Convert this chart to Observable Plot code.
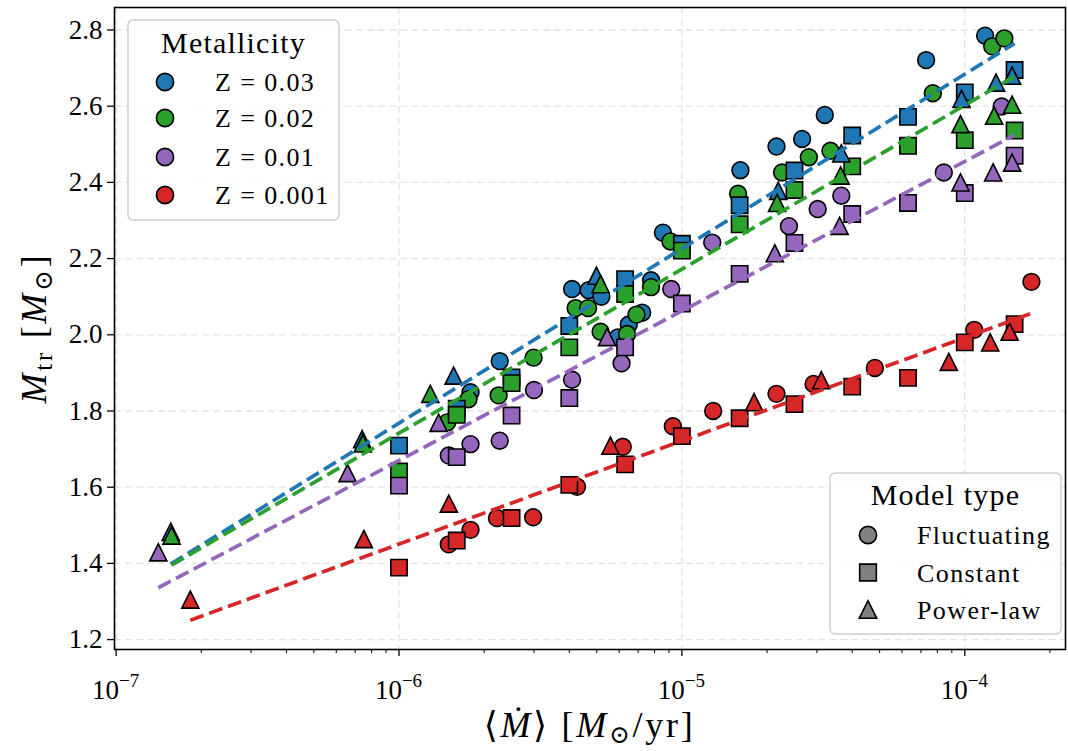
<!DOCTYPE html>
<html>
<head>
<meta charset="utf-8">
<script src="https://cdn.jsdelivr.net/npm/d3@7"></script>
<script src="https://cdn.jsdelivr.net/npm/@observablehq/plot@0.6"></script>
<style>
  html, body { margin: 0; padding: 0; background: #fff; }
  #chart { position: relative; width: 1068px; height: 751px; }
</style>
</head>
<body>
<div id="chart"></div>
<script>
const SERIF = "'Liberation Serif', 'DejaVu Serif', serif";

// Metallicity groups and model types
const zLabels = ["0.03", "0.02", "0.01", "0.001"];
const zColors = ["#1f77b4", "#2ca02c", "#9467bd", "#d62728"];
const modelNames = ["Fluctuating", "Constant", "Power-law"];

// Axis ticks
const yTicks = [1.2, 1.4, 1.6, 1.8, 2.0, 2.2, 2.4, 2.6, 2.8];
const xMajorTicks = [1e-7, 1e-6, 1e-5, 1e-4];
const xMajorExponents = ["\u22127", "\u22126", "\u22125", "\u22124"];
const xMinorTicks = [
  2e-7, 3e-7, 4e-7, 5e-7, 6e-7, 7e-7, 8e-7, 9e-7,
  2e-6, 3e-6, 4e-6, 5e-6, 6e-6, 7e-6, 8e-6, 9e-6,
  2e-5, 3e-5, 4e-5, 5e-5, 6e-5, 7e-5, 8e-5, 9e-5,
  2e-4
];

// Constant accretion-rate models (shared grid of rates, M_sun/yr)
const constRate = [1e-6, 1.6e-6, 2.5e-6, 4e-6, 6.3e-6, 1e-5, 1.6e-5, 2.5e-5, 4e-5, 6.3e-5, 1e-4, 1.5e-4];
const constMtr003 = [1.709, 1.806, 1.888, 2.023, 2.146, 2.239, 2.340, 2.431, 2.523, 2.572, 2.636, 2.695];
const constMtr002 = [1.641, 1.790, 1.873, 1.967, 2.107, 2.221, 2.290, 2.380, 2.442, 2.496, 2.511, 2.536];
const constMtr001 = [1.604, 1.679, 1.788, 1.834, 1.967, 2.082, 2.160, 2.241, 2.317, 2.346, 2.372, 2.470];
const constMtr0001 = [1.389, 1.460, 1.519, 1.606, 1.660, 1.734, 1.781, 1.818, 1.864, 1.887, 1.980, 2.028];

// Fluctuating models: time-averaged rate and transition mass
const flucRate003 = [1.79e-6, 2.27e-6, 4.09e-6, 4.68e-6, 5.19e-6, 5.93e-6, 6.49e-6, 7.24e-6, 7.78e-6, 8.57e-6, 1.61e-5, 2.16e-5, 2.66e-5, 3.20e-5, 7.30e-5, 1.18e-4];
const flucMtr003 = [1.849, 1.931, 2.120, 2.117, 2.100, 1.993, 2.027, 2.058, 2.143, 2.268, 2.432, 2.494, 2.514, 2.577, 2.721, 2.785];
const flucRate002 = [1.48e-6, 1.76e-6, 2.25e-6, 2.99e-6, 4.21e-6, 4.66e-6, 5.16e-6, 6.40e-6, 6.91e-6, 7.78e-6, 9.11e-6, 1.58e-5, 2.26e-5, 2.81e-5, 3.35e-5, 7.71e-5, 1.25e-4, 1.38e-4];
const flucMtr002 = [1.770, 1.831, 1.841, 1.940, 2.070, 2.070, 2.008, 2.002, 2.053, 2.125, 2.245, 2.370, 2.426, 2.466, 2.483, 2.634, 2.757, 2.778];
const flucRate001 = [1.50e-6, 1.79e-6, 2.27e-6, 3.00e-6, 4.09e-6, 6.12e-6, 9.17e-6, 1.28e-5, 2.39e-5, 3.02e-5, 3.66e-5, 8.43e-5, 1.35e-4];
const flucMtr001 = [1.683, 1.713, 1.722, 1.855, 1.882, 1.925, 2.120, 2.242, 2.285, 2.330, 2.365, 2.426, 2.599];
const flucRate0001 = [1.50e-6, 1.79e-6, 2.22e-6, 2.98e-6, 4.26e-6, 6.18e-6, 9.29e-6, 1.29e-5, 2.16e-5, 2.92e-5, 4.81e-5, 1.08e-4, 1.72e-4];
const flucMtr0001 = [1.450, 1.488, 1.519, 1.521, 1.601, 1.706, 1.760, 1.800, 1.845, 1.871, 1.913, 2.013, 2.139];

// Power-law models
const powRate003 = [1.56e-7, 7.41e-7, 1.56e-6, 4.99e-6, 2.19e-5, 3.66e-5, 9.74e-5, 1.29e-4, 1.47e-4];
const powMtr003 = [1.483, 1.726, 1.893, 2.155, 2.378, 2.476, 2.619, 2.662, 2.680];
const powRate002 = [1.57e-7, 7.45e-7, 1.29e-6, 5.16e-6, 2.17e-5, 3.64e-5, 9.66e-5, 1.27e-4, 1.47e-4];
const powMtr002 = [1.473, 1.715, 1.845, 2.133, 2.346, 2.418, 2.553, 2.575, 2.604];
const powRate001 = [1.41e-7, 6.58e-7, 1.38e-6, 5.44e-6, 2.13e-5, 3.61e-5, 9.66e-5, 1.26e-4, 1.47e-4];
const powMtr001 = [1.429, 1.637, 1.769, 1.994, 2.214, 2.286, 2.400, 2.426, 2.452];
const powRate0001 = [1.83e-7, 7.51e-7, 1.50e-6, 5.59e-6, 1.80e-5, 3.11e-5, 8.78e-5, 1.23e-4, 1.44e-4];
const powMtr0001 = [1.305, 1.464, 1.557, 1.709, 1.823, 1.881, 1.929, 1.980, 2.008];

// Log-linear fits per metallicity: M_tr = intercept + slope * log10(rate)
const fitSlope = [0.458, 0.4304, 0.3925, 0.2709];
const fitIntercept = [4.516, 4.324, 4.025, 3.076];

// ---- assemble table (circles first, then squares, then triangles) ----
const flucRate = [flucRate003, flucRate002, flucRate001, flucRate0001];
const flucMtr = [flucMtr003, flucMtr002, flucMtr001, flucMtr0001];
const constMtr = [constMtr003, constMtr002, constMtr001, constMtr0001];
const powRate = [powRate003, powRate002, powRate001, powRate0001];
const powMtr = [powMtr003, powMtr002, powMtr001, powMtr0001];

const rows = [];
modelNames.forEach((model, m) => {
  zLabels.forEach((z, k) => {
    const xs = m === 0 ? flucRate[k] : m === 1 ? constRate : powRate[k];
    const ys = m === 0 ? flucMtr[k] : m === 1 ? constMtr[k] : powMtr[k];
    xs.forEach((rate, i) => rows.push({model, z, rate, mtr: ys[i]}));
  });
});

const fitRows = [];
zLabels.forEach((z, k) => {
  const ext = d3.extent(rows.filter(r => r.z === z), r => r.rate);
  ext.forEach(rate => fitRows.push({z, rate, mtr: fitIntercept[k] + fitSlope[k] * Math.log10(rate)}));
});

// Marker shapes sized from the same radius, centred on their bounding box
const symCircle = {draw(ctx, size) { const r = Math.sqrt(size / Math.PI); ctx.moveTo(r, 0); ctx.arc(0, 0, r, 0, 2 * Math.PI); }};
const symSquare = {draw(ctx, size) { const r = Math.sqrt(size / Math.PI) * 0.97; ctx.moveTo(-r, -r); ctx.lineTo(r, -r); ctx.lineTo(r, r); ctx.lineTo(-r, r); ctx.closePath(); }};
const symTriangle = {draw(ctx, size) { const r = Math.sqrt(size / Math.PI) * 1.02; ctx.moveTo(0, -r); ctx.lineTo(r, r); ctx.lineTo(-r, r); ctx.closePath(); }};
const symbols = [symCircle, symSquare, symTriangle];

const gridStyle = {stroke: "#e3e3e3", strokeOpacity: 1, strokeWidth: 1.3, strokeDasharray: "7,4"};

const chart = Plot.plot({
  width: 1068,
  height: 751,
  marginLeft: 114,
  marginRight: 3,
  marginTop: 7,
  marginBottom: 102,
  x: {type: "log", domain: [9.87e-8, 2.27e-4]},
  y: {domain: [1.174, 2.859]},
  color: {domain: zLabels, range: zColors},
  symbol: {domain: modelNames, range: symbols},
  style: {fontFamily: SERIF, fontSize: "27px", color: "#000", background: "#fff", overflow: "visible"},
  marks: [
    Plot.gridX(xMajorTicks, gridStyle),
    Plot.gridY(yTicks, gridStyle),
    Plot.axisY(yTicks, {tickSize: 7, tickPadding: 5, strokeWidth: 1.3, tickFormat: d3.format(".1f"), fontSize: 27, label: null}),
    Plot.axisX(xMajorTicks, {tickSize: 7, strokeWidth: 1.3, tickFormat: () => "", label: null}),
    Plot.axisX(xMinorTicks, {tickSize: 4, strokeWidth: 1.0, tickFormat: () => "", label: null}),
    Plot.dot(rows, {
      x: "rate", y: "mtr", fill: "z", symbol: "model",
      r: 8.4, stroke: "black", strokeWidth: 1.6, strokeLinejoin: "miter"
    }),
    Plot.line(fitRows, {
      x: "rate", y: "mtr", z: "z", stroke: "z",
      strokeWidth: 3.7, strokeDasharray: "14,6", strokeLinecap: "butt"
    }),
    Plot.frame({stroke: "black", strokeWidth: 1.6})
  ]
});

document.getElementById("chart").appendChild(chart);

// ---- custom text: exponent tick labels, axis titles, legends ----
const svg = d3.select(chart);
const xScale = chart.scale("x");

const tickLabels = svg.append("g").attr("font-family", SERIF).attr("fill", "#000");
xMajorTicks.forEach((v, i) => {
  const t = tickLabels.append("text")
    .attr("x", xScale.apply(v)).attr("y", 699)
    .attr("text-anchor", "middle").attr("font-size", 27);
  t.append("tspan").text("10");
  t.append("tspan").attr("dy", -12).attr("font-size", 19).text(xMajorExponents[i]);
});

// x axis title: <Mdot> [M_sun/yr]
const xt = svg.append("text")
  .attr("x", 589.5).attr("y", 737)
  .attr("text-anchor", "middle").attr("font-family", SERIF).attr("font-size", 36)
  .attr("letter-spacing", 2.7).attr("fill", "#000");
xt.append("tspan").text("\u27E8");
xt.append("tspan").attr("font-style", "italic").text("\u1E40");
xt.append("tspan").text("\u27E9 [");
xt.append("tspan").attr("font-style", "italic").text("M");
xt.append("tspan").attr("dy", 6).attr("font-size", 25).text("\u2299");
xt.append("tspan").attr("dy", -6).text("/yr]");

// y axis title: M_tr [M_sun]
const yt = svg.append("text")
  .attr("transform", "translate(46,328) rotate(-90)")
  .attr("text-anchor", "middle").attr("font-family", SERIF).attr("font-size", 36)
  .attr("letter-spacing", 2.7).attr("fill", "#000");
yt.append("tspan").attr("font-style", "italic").text("M");
yt.append("tspan").attr("dy", 6).attr("font-size", 25).text("tr");
yt.append("tspan").attr("dy", -6).text(" [");
yt.append("tspan").attr("font-style", "italic").text("M");
yt.append("tspan").attr("dy", 6).attr("font-size", 25).text("\u2299");
yt.append("tspan").attr("dy", -6).text("]");

function symbolPath(sym, r) {
  const p = d3.path();
  sym.draw(p, r * r * Math.PI);
  return p.toString();
}

function legend(box, title, entries) {
  const g = svg.append("g").attr("font-family", SERIF).attr("fill", "#000");
  g.append("rect")
    .attr("x", box.x).attr("y", box.y).attr("width", box.w).attr("height", box.h)
    .attr("rx", 5).attr("fill", "#fff").attr("fill-opacity", 0.85)
    .attr("stroke", "#cfcfcf").attr("stroke-width", 1.5);
  g.append("text")
    .attr("x", box.x + box.w / 2).attr("y", box.titleY)
    .attr("text-anchor", "middle").attr("font-size", 30).attr("letter-spacing", 1.2)
    .text(title);
  entries.forEach((e, i) => {
    const cy = box.rowY[i];
    g.append("path")
      .attr("transform", `translate(${box.markX},${cy})`)
      .attr("d", symbolPath(e.symbol, 8.6))
      .attr("fill", e.color).attr("stroke", "#000").attr("stroke-width", 1.6)
      .attr("stroke-linejoin", "miter");
    g.append("text")
      .attr("x", box.textX).attr("y", cy + 9)
      .attr("text-anchor", "start")
      .attr("font-size", 26).attr("letter-spacing", 1.4)
      .text(e.label);
  });
}

legend(
  {x: 128, y: 20, w: 211, h: 200, titleY: 53, markX: 165, textX: 215, rowY: [82, 118, 157, 195]},
  "Metallicity",
  zLabels.map((z, k) => ({symbol: symCircle, color: zColors[k], label: "Z = " + z}))
);

legend(
  {x: 830, y: 473, w: 231, h: 161, titleY: 505, markX: 868, textX: 917, rowY: [535, 572.5, 609.5]},
  "Model type",
  modelNames.map((name, m) => ({symbol: symbols[m], color: "#808080", label: name}))
);
</script>
</body>
</html>
